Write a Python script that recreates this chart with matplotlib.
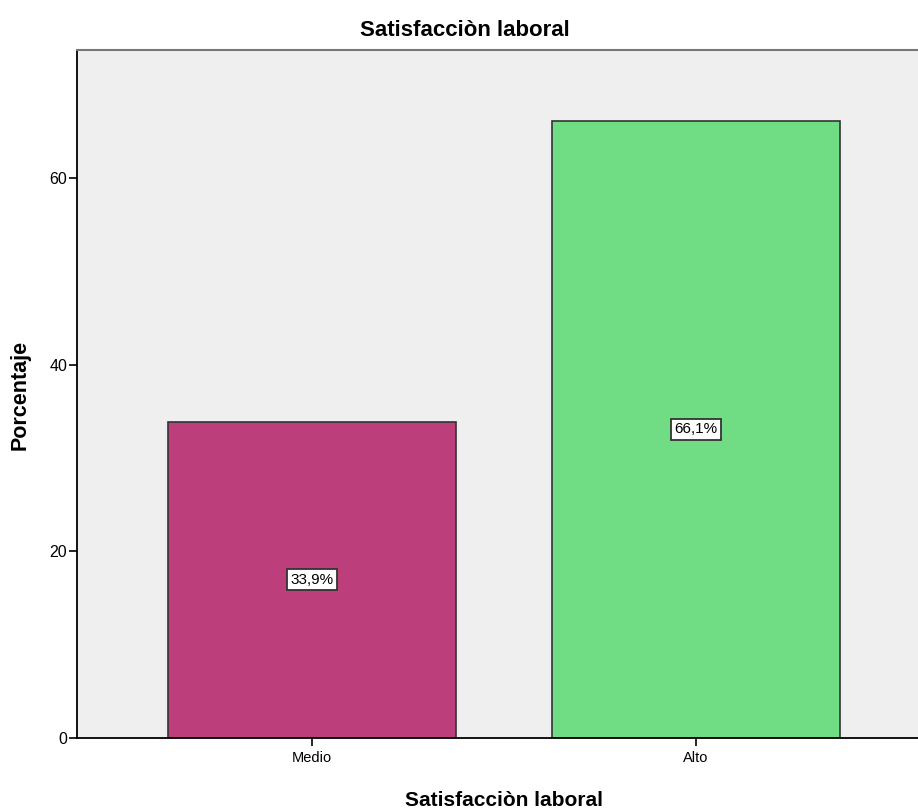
import matplotlib
matplotlib.use('Agg')
import matplotlib.pyplot as plt

# Data
categorias = ['Medio', 'Alto']
porcentajes = [33.9, 66.1]
etiquetas = ['33,9%', '66,1%']
colores = ['#bc3f7c', '#70dd84']

plt.rcParams['font.family'] = ['Liberation Sans', 'DejaVu Sans']

fig = plt.figure(figsize=(9.18, 8.11), dpi=100)
ax = fig.add_axes([77/918, 73/811, 854/918, 688/811])
ax.set_facecolor('#efefef')

x = range(len(categorias))
ax.bar(x, porcentajes, width=0.75, color=colores, edgecolor='#333333', linewidth=1.2)

# value boxes in the middle of each bar
for i, v in enumerate(porcentajes):
    ax.text(i, v / 2, etiquetas[i], ha='center', va='center', fontsize=11,
            bbox=dict(boxstyle='square,pad=0.22', facecolor='white', edgecolor='#333333', linewidth=1.3))

ax.set_xlim(-0.612, 1.612)
ax.set_ylim(0, 73.7)
ax.set_xticks(list(x))
ax.set_xticklabels(categorias, fontsize=10.5)
ax.set_yticks([0, 20, 40, 60])
ax.tick_params(axis='y', labelsize=11.5, length=6, width=1.2, direction='out', pad=1)
ax.tick_params(axis='x', length=6, width=1.2, direction='out', pad=3)

ax.spines['left'].set_linewidth(1.3)
ax.spines['bottom'].set_linewidth(1.3)
ax.spines['top'].set_color('#777777')
ax.spines['top'].set_linewidth(1.5)
ax.spines['right'].set_visible(False)

fig.text(20/918, 1 - 395/811, 'Porcentaje', rotation=90, ha='center', va='center',
         fontsize=15.5, fontweight='bold')
fig.text(465/918, 1 - 30/811, 'Satisfacciòn laboral', ha='center', va='center',
         fontsize=16, fontweight='bold')
fig.text(504/918, 1 - 800/811, 'Satisfacciòn laboral', ha='center', va='center',
         fontsize=15, fontweight='bold')

plt.savefig('out.png', dpi=100)
